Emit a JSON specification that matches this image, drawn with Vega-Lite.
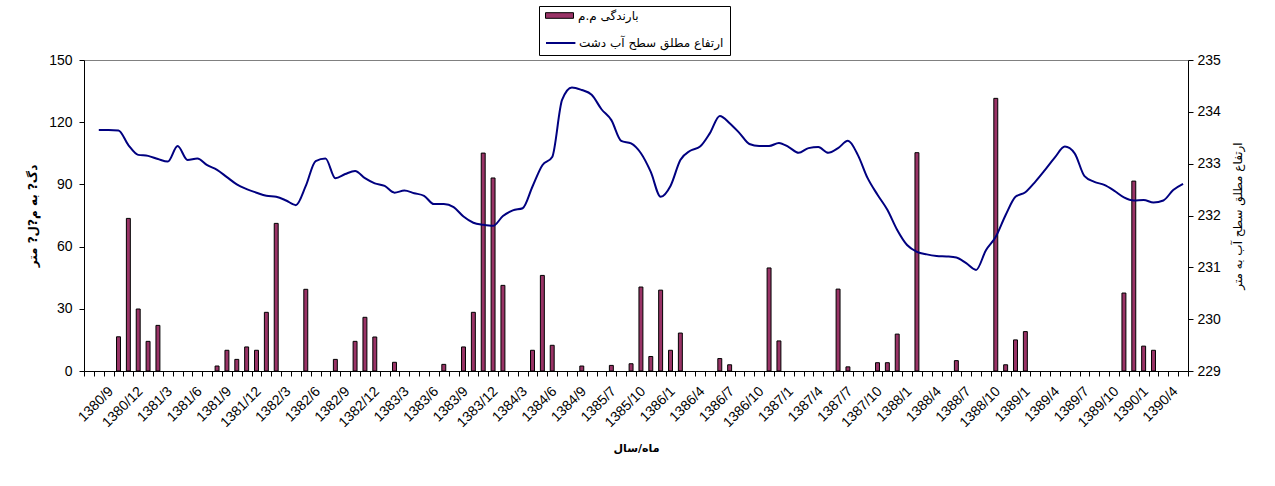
{
  "$schema": "https://vega.github.io/schema/vega-lite/v6.json",
  "width": 1104,
  "height": 311,
  "autosize": {"type": "none"},
  "padding": {"left": 84, "top": 60, "right": 87, "bottom": 115},
  "background": "white",
  "data": {
    "values": [
      {"m": "1380/7", "rain": null, "level": null},
      {"m": "1380/8", "rain": null, "level": 233.65},
      {"m": "1380/9", "rain": null, "level": 233.65},
      {"m": "1380/10", "rain": 16.5, "level": 233.64},
      {"m": "1380/11", "rain": 73.6, "level": 233.36},
      {"m": "1380/12", "rain": 29.9, "level": 233.17},
      {"m": "1381/1", "rain": 14.3, "level": 233.15},
      {"m": "1381/2", "rain": 22.0, "level": 233.09},
      {"m": "1381/3", "rain": null, "level": 233.04},
      {"m": "1381/4", "rain": null, "level": 233.34},
      {"m": "1381/5", "rain": null, "level": 233.07},
      {"m": "1381/6", "rain": null, "level": 233.10},
      {"m": "1381/7", "rain": null, "level": 232.97},
      {"m": "1381/8", "rain": 2.4, "level": 232.88},
      {"m": "1381/9", "rain": 10.0, "level": 232.74},
      {"m": "1381/10", "rain": 5.6, "level": 232.60},
      {"m": "1381/11", "rain": 11.6, "level": 232.51},
      {"m": "1381/12", "rain": 10.0, "level": 232.44},
      {"m": "1382/1", "rain": 28.3, "level": 232.38},
      {"m": "1382/2", "rain": 71.2, "level": 232.36},
      {"m": "1382/3", "rain": null, "level": 232.29},
      {"m": "1382/4", "rain": null, "level": 232.20},
      {"m": "1382/5", "rain": 39.4, "level": 232.57},
      {"m": "1382/6", "rain": null, "level": 233.05},
      {"m": "1382/7", "rain": null, "level": 233.10},
      {"m": "1382/8", "rain": 5.6, "level": 232.72},
      {"m": "1382/9", "rain": null, "level": 232.80},
      {"m": "1382/10", "rain": 14.3, "level": 232.86},
      {"m": "1382/11", "rain": 25.9, "level": 232.72},
      {"m": "1382/12", "rain": 16.4, "level": 232.62},
      {"m": "1383/1", "rain": null, "level": 232.57},
      {"m": "1383/2", "rain": 4.2, "level": 232.44},
      {"m": "1383/3", "rain": null, "level": 232.48},
      {"m": "1383/4", "rain": null, "level": 232.43},
      {"m": "1383/5", "rain": null, "level": 232.38},
      {"m": "1383/6", "rain": null, "level": 232.22},
      {"m": "1383/7", "rain": 3.2, "level": 232.22},
      {"m": "1383/8", "rain": null, "level": 232.16},
      {"m": "1383/9", "rain": 11.6, "level": 231.98},
      {"m": "1383/10", "rain": 28.3, "level": 231.86},
      {"m": "1383/11", "rain": 105.1, "level": 231.82},
      {"m": "1383/12", "rain": 93.1, "level": 231.80},
      {"m": "1384/1", "rain": 41.3, "level": 231.99},
      {"m": "1384/2", "rain": null, "level": 232.10},
      {"m": "1384/3", "rain": null, "level": 232.14},
      {"m": "1384/4", "rain": 10.0, "level": 232.56},
      {"m": "1384/5", "rain": 46.1, "level": 232.97},
      {"m": "1384/6", "rain": 12.4, "level": 233.13},
      {"m": "1384/7", "rain": null, "level": 234.23},
      {"m": "1384/8", "rain": null, "level": 234.47},
      {"m": "1384/9", "rain": 2.4, "level": 234.42},
      {"m": "1384/10", "rain": null, "level": 234.33},
      {"m": "1384/11", "rain": null, "level": 234.05},
      {"m": "1385/7", "rain": 2.7, "level": 233.84},
      {"m": "1385/8", "rain": null, "level": 233.44},
      {"m": "1385/9", "rain": 3.5, "level": 233.39},
      {"m": "1385/10", "rain": 40.5, "level": 233.20},
      {"m": "1385/11", "rain": 7.0, "level": 232.84},
      {"m": "1385/12", "rain": 39.0, "level": 232.36},
      {"m": "1386/1", "rain": 10.0, "level": 232.57},
      {"m": "1386/2", "rain": 18.3, "level": 233.07},
      {"m": "1386/3", "rain": null, "level": 233.25},
      {"m": "1386/4", "rain": null, "level": 233.33},
      {"m": "1386/5", "rain": null, "level": 233.59},
      {"m": "1386/6", "rain": 6.0, "level": 233.92},
      {"m": "1386/7", "rain": 3.0, "level": 233.78},
      {"m": "1386/8", "rain": null, "level": 233.59},
      {"m": "1386/9", "rain": null, "level": 233.38},
      {"m": "1386/10", "rain": null, "level": 233.34},
      {"m": "1386/11", "rain": 49.7, "level": 233.34},
      {"m": "1386/12", "rain": 14.5, "level": 233.40},
      {"m": "1387/1", "rain": null, "level": 233.32},
      {"m": "1387/2", "rain": null, "level": 233.21},
      {"m": "1387/3", "rain": null, "level": 233.30},
      {"m": "1387/4", "rain": null, "level": 233.32},
      {"m": "1387/5", "rain": null, "level": 233.21},
      {"m": "1387/6", "rain": 39.5, "level": 233.30},
      {"m": "1387/7", "rain": 2.0, "level": 233.44},
      {"m": "1387/8", "rain": null, "level": 233.17},
      {"m": "1387/9", "rain": null, "level": 232.72},
      {"m": "1387/10", "rain": 4.0, "level": 232.40},
      {"m": "1387/11", "rain": 4.0, "level": 232.11},
      {"m": "1387/12", "rain": 17.8, "level": 231.72},
      {"m": "1388/1", "rain": null, "level": 231.43},
      {"m": "1388/2", "rain": 105.3, "level": 231.30},
      {"m": "1388/3", "rain": null, "level": 231.25},
      {"m": "1388/4", "rain": null, "level": 231.22},
      {"m": "1388/5", "rain": null, "level": 231.21},
      {"m": "1388/6", "rain": 5.0, "level": 231.19},
      {"m": "1388/7", "rain": null, "level": 231.08},
      {"m": "1388/8", "rain": null, "level": 230.95},
      {"m": "1388/9", "rain": null, "level": 231.33},
      {"m": "1388/10", "rain": 131.5, "level": 231.59},
      {"m": "1388/11", "rain": 3.0, "level": 232.01},
      {"m": "1388/12", "rain": 15.0, "level": 232.36},
      {"m": "1389/1", "rain": 19.0, "level": 232.45},
      {"m": "1389/2", "rain": null, "level": 232.65},
      {"m": "1389/3", "rain": null, "level": 232.88},
      {"m": "1389/4", "rain": null, "level": 233.12},
      {"m": "1389/5", "rain": null, "level": 233.33},
      {"m": "1389/6", "rain": null, "level": 233.20},
      {"m": "1389/7", "rain": null, "level": 232.76},
      {"m": "1389/8", "rain": null, "level": 232.65},
      {"m": "1389/9", "rain": null, "level": 232.59},
      {"m": "1389/10", "rain": null, "level": 232.48},
      {"m": "1389/11", "rain": 37.6, "level": 232.35},
      {"m": "1389/12", "rain": 91.6, "level": 232.29},
      {"m": "1390/1", "rain": 12.0, "level": 232.30},
      {"m": "1390/2", "rain": 10.0, "level": 232.25},
      {"m": "1390/3", "rain": null, "level": 232.29},
      {"m": "1390/4", "rain": null, "level": 232.49},
      {"m": "1390/5", "rain": null, "level": 232.61}
    ]
  },
  "layer": [
    {
      "mark": {"type": "bar", "width": {"band": 0.4}, "stroke": "black", "strokeWidth": 1},
      "encoding": {
        "x": {
          "field": "m", "type": "ordinal", "sort": null,
          "scale": {
            "paddingInner": 0, "paddingOuter": 0,
            "domain": ["1380/7","1380/8","1380/9","1380/10","1380/11","1380/12",
              "1381/1","1381/2","1381/3","1381/4","1381/5","1381/6","1381/7","1381/8","1381/9","1381/10","1381/11","1381/12",
              "1382/1","1382/2","1382/3","1382/4","1382/5","1382/6","1382/7","1382/8","1382/9","1382/10","1382/11","1382/12",
              "1383/1","1383/2","1383/3","1383/4","1383/5","1383/6","1383/7","1383/8","1383/9","1383/10","1383/11","1383/12",
              "1384/1","1384/2","1384/3","1384/4","1384/5","1384/6","1384/7","1384/8","1384/9","1384/10","1384/11",
              "1385/7","1385/8","1385/9","1385/10","1385/11","1385/12",
              "1386/1","1386/2","1386/3","1386/4","1386/5","1386/6","1386/7","1386/8","1386/9","1386/10","1386/11","1386/12",
              "1387/1","1387/2","1387/3","1387/4","1387/5","1387/6","1387/7","1387/8","1387/9","1387/10","1387/11","1387/12",
              "1388/1","1388/2","1388/3","1388/4","1388/5","1388/6","1388/7","1388/8","1388/9","1388/10","1388/11","1388/12",
              "1389/1","1389/2","1389/3","1389/4","1389/5","1389/6","1389/7","1389/8","1389/9","1389/10","1389/11","1389/12",
              "1390/1","1390/2","1390/3","1390/4","1390/5"]
          },
          "axis": {
            "title": "ماه/سال",
            "titleFont": "DejaVu Sans", "titleFontSize": 11, "titleFontWeight": "bold", "titlePadding": 13,
            "labelExpr": "indexof(['1380/9','1380/12','1381/3','1381/6','1381/9','1381/12','1382/3','1382/6','1382/9','1382/12','1383/3','1383/6','1383/9','1383/12','1384/3','1384/6','1384/9','1385/7','1385/10','1386/1','1386/4','1386/7','1386/10','1387/1','1387/4','1387/7','1387/10','1388/1','1388/4','1388/7','1388/10','1389/1','1389/4','1389/7','1389/10','1390/1','1390/4'], datum.value) >= 0 ? datum.value : ''",
            "labelAngle": -45, "labelAlign": "right", "labelBaseline": "middle",
            "labelFont": "Liberation Sans", "labelFontSize": 14, "labelColor": "black",
            "labelPadding": 13, "labelOffset": 2, "labelOverlap": false, "labelBound": false,
            "tickBand": "extent", "tickSize": 5, "tickColor": "black",
            "domainColor": "black", "grid": false
          }
        },
        "y": {
          "field": "rain", "type": "quantitative",
          "scale": {"domain": [0, 150], "nice": false},
          "axis": {
            "values": [0, 30, 60, 90, 120, 150],
            "title": "دگ? به م?ل? متر",
            "titleFont": "DejaVu Sans", "titleFontSize": 12, "titleFontWeight": "bold", "titlePadding": 9,
            "labelFont": "Liberation Sans", "labelFontSize": 14, "labelColor": "black", "labelPadding": 7,
            "tickSize": 5, "tickColor": "black", "domainColor": "black", "grid": false
          }
        },
        "fill": {
          "datum": "بارندگی م.م", "type": "nominal",
          "scale": {"range": ["#993366"]},
          "legend": {
            "title": null, "orient": "none", "legendX": 455, "legendY": -54, "zindex": 2,
            "padding": 2, "symbolSize": 196, "symbolOffset": 4, "labelOffset": 18,
            "symbolType": "M-1,-0.4H3V0.4H-1Z", "symbolStrokeColor": "black", "symbolStrokeWidth": 1,
            "labelFont": "DejaVu Sans", "labelFontSize": 12, "labelColor": "black", "labelLimit": 0
          }
        }
      }
    },
    {
      "mark": {"type": "line", "interpolate": "monotone", "strokeWidth": 2},
      "encoding": {
        "x": {"field": "m", "type": "ordinal", "sort": null},
        "y": {
          "field": "level", "type": "quantitative",
          "scale": {"domain": [229, 235], "nice": false, "zero": false},
          "axis": {
            "orient": "right",
            "values": [229, 230, 231, 232, 233, 234, 235],
            "title": "ارتفاع مطلق سطح آب به متر",
            "titleFont": "DejaVu Sans", "titleFontSize": 12, "titleFontWeight": "normal",
            "titleAngle": -90, "titleBaseline": "top", "titlePadding": 12,
            "labelFont": "Liberation Sans", "labelFontSize": 14, "labelColor": "black", "labelPadding": 4,
            "tickSize": 5, "tickColor": "black", "domainColor": "black", "grid": false
          }
        },
        "stroke": {
          "datum": "ارتفاع مطلق سطح آب دشت", "type": "nominal",
          "scale": {"range": ["#000080"]},
          "legend": {
            "title": " ", "titleFontSize": 12, "titlePadding": 11,
            "orient": "none", "legendX": 455, "legendY": -54, "zindex": 1,
            "strokeColor": "black", "fillColor": "white",
            "padding": 6, "symbolSize": 196, "symbolOffset": 0, "labelOffset": 18,
            "symbolType": "M-1,0H3.2", "symbolStrokeWidth": 2,
            "labelFont": "DejaVu Sans", "labelFontSize": 12, "labelColor": "black", "labelLimit": 0
          }
        }
      }
    }
  ],
  "resolve": {"scale": {"y": "independent"}},
  "config": {
    "view": {"stroke": "#808080"},
    "axis": {"domainWidth": 1, "tickWidth": 1}
  }
}
